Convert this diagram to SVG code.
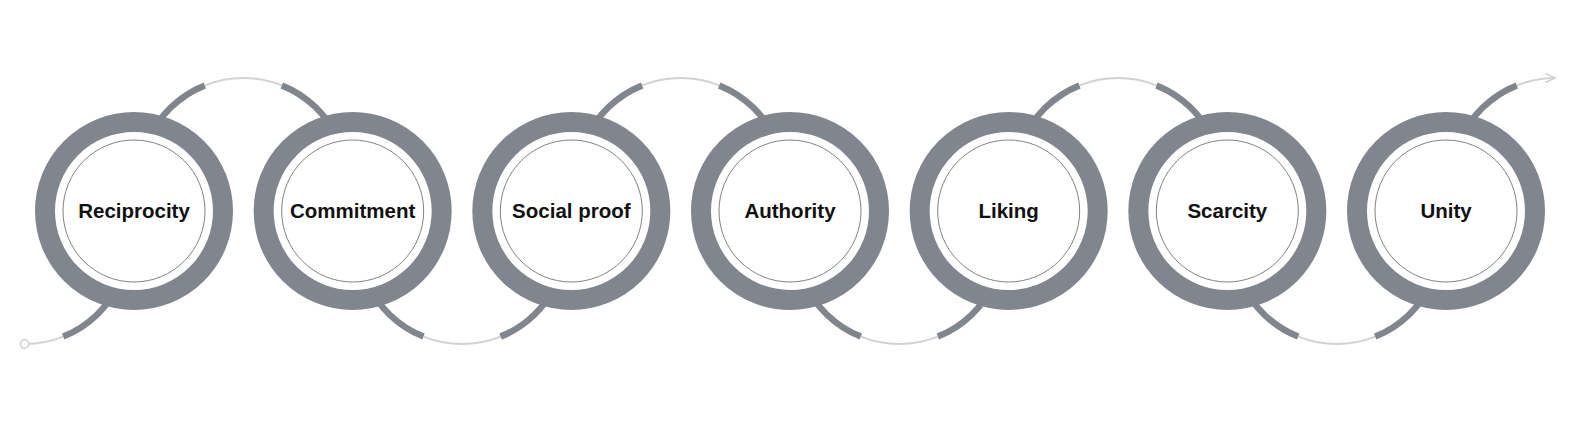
<svg xmlns="http://www.w3.org/2000/svg" width="1580" height="423" viewBox="0 0 1580 423">
<style>
.ring{fill:#ffffff;stroke:#81858d;stroke-width:20}
.inner{fill:#ffffff;stroke:#7f838b;stroke-width:1}
.thick{fill:none;stroke:#81858d;stroke-width:6.5}
.thin{fill:none;stroke:#d2d2d2;stroke-width:2}
.lbl{font-family:"Liberation Sans",Arial,sans-serif;font-weight:bold;font-size:20.5px;fill:#111111;text-anchor:middle}
</style>
<defs>
<marker id="arr" viewBox="0 0 12 12" refX="11" refY="6" markerWidth="12" markerHeight="12" markerUnits="userSpaceOnUse" orient="auto">
<path d="M1,1.5 L11,6 L1,10.5" fill="none" stroke="#d2d2d2" stroke-width="1.6"/>
</marker>
</defs>
<g id="connectors">
<!-- start -->
<path class="thin" d="M24.67,344 A104,104 0 0 0 63.17,336.6"/>
<path class="thick" d="M63.17,336.6 A104,104 0 0 0 119.67,282.3"/>
<circle cx="24.67" cy="344" r="4.2" fill="#ffffff" stroke="#cfcfcf" stroke-width="1.6"/>
<!-- top 1-2 -->
<path class="thick" d="M148.33,139.7 A104,104 0 0 1 204.83,85.4"/>
<path class="thin" d="M204.83,85.4 A104,104 0 0 1 281.83,85.4"/>
<path class="thick" d="M281.83,85.4 A104,104 0 0 1 338.33,139.7"/>
<!-- bottom 2-3 -->
<path class="thick" d="M367,282.3 A104,104 0 0 0 423.5,336.6"/>
<path class="thin" d="M423.5,336.6 A104,104 0 0 0 500.5,336.6"/>
<path class="thick" d="M500.5,336.6 A104,104 0 0 0 557,282.3"/>
<!-- top 3-4 -->
<path class="thick" d="M585.67,139.7 A104,104 0 0 1 642.17,85.4"/>
<path class="thin" d="M642.17,85.4 A104,104 0 0 1 719.17,85.4"/>
<path class="thick" d="M719.17,85.4 A104,104 0 0 1 775.67,139.7"/>
<!-- bottom 4-5 -->
<path class="thick" d="M804.33,282.3 A104,104 0 0 0 860.83,336.6"/>
<path class="thin" d="M860.83,336.6 A104,104 0 0 0 937.83,336.6"/>
<path class="thick" d="M937.83,336.6 A104,104 0 0 0 994.33,282.3"/>
<!-- top 5-6 -->
<path class="thick" d="M1023,139.7 A104,104 0 0 1 1079.5,85.4"/>
<path class="thin" d="M1079.5,85.4 A104,104 0 0 1 1156.5,85.4"/>
<path class="thick" d="M1156.5,85.4 A104,104 0 0 1 1213,139.7"/>
<!-- bottom 6-7 -->
<path class="thick" d="M1241.67,282.3 A104,104 0 0 0 1298.17,336.6"/>
<path class="thin" d="M1298.17,336.6 A104,104 0 0 0 1375.17,336.6"/>
<path class="thick" d="M1375.17,336.6 A104,104 0 0 0 1431.67,282.3"/>
<!-- end -->
<path class="thick" d="M1460.33,139.7 A104,104 0 0 1 1516.83,85.4"/>
<path class="thin" d="M1516.83,85.4 A104,104 0 0 1 1555.33,78" marker-end="url(#arr)"/>
</g>
<g id="node-reciprocity">
<circle class="ring" cx="134" cy="211" r="89"/>
<circle class="inner" cx="134" cy="211" r="71"/>
<text class="lbl" x="134" y="218">Reciprocity</text>
</g>
<g id="node-commitment">
<circle class="ring" cx="352.67" cy="211" r="89"/>
<circle class="inner" cx="352.67" cy="211" r="71"/>
<text class="lbl" x="352.67" y="218">Commitment</text>
</g>
<g id="node-social-proof">
<circle class="ring" cx="571.33" cy="211" r="89"/>
<circle class="inner" cx="571.33" cy="211" r="71"/>
<text class="lbl" x="571.33" y="218">Social proof</text>
</g>
<g id="node-authority">
<circle class="ring" cx="790" cy="211" r="89"/>
<circle class="inner" cx="790" cy="211" r="71"/>
<text class="lbl" x="790" y="218">Authority</text>
</g>
<g id="node-liking">
<circle class="ring" cx="1008.67" cy="211" r="89"/>
<circle class="inner" cx="1008.67" cy="211" r="71"/>
<text class="lbl" x="1008.67" y="218">Liking</text>
</g>
<g id="node-scarcity">
<circle class="ring" cx="1227.33" cy="211" r="89"/>
<circle class="inner" cx="1227.33" cy="211" r="71"/>
<text class="lbl" x="1227.33" y="218">Scarcity</text>
</g>
<g id="node-unity">
<circle class="ring" cx="1446" cy="211" r="89"/>
<circle class="inner" cx="1446" cy="211" r="71"/>
<text class="lbl" x="1446" y="218">Unity</text>
</g>
</svg>
